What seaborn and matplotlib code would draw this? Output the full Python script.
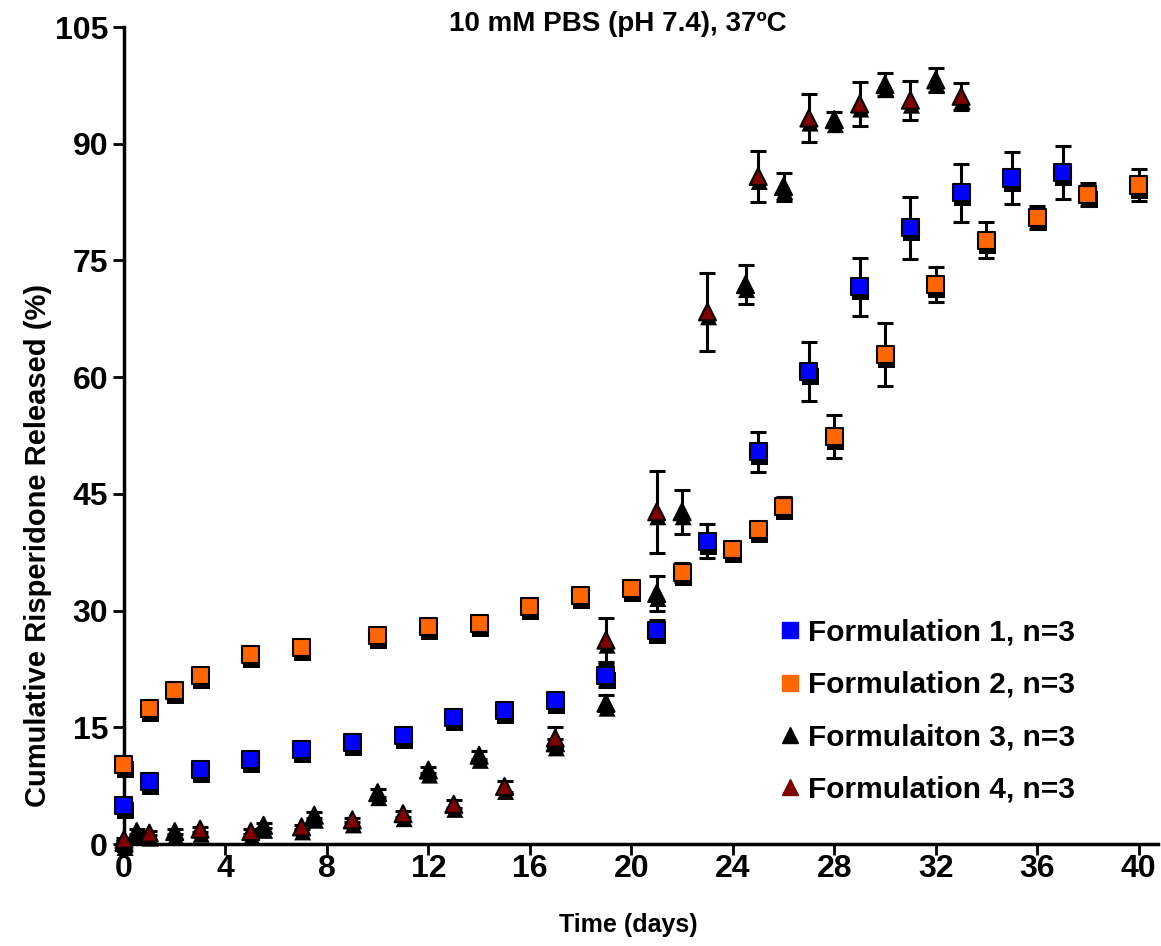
import matplotlib
matplotlib.use("Agg")
import matplotlib.pyplot as plt
import matplotlib.patheffects as pe
from matplotlib.lines import Line2D
import pandas as pd
import seaborn as sns

# -----------------------------
# Dados (dias, % liberado, desvio)
# -----------------------------
days_f1 = [0, 1, 3, 5, 7, 9, 11, 13, 15, 17, 19, 21, 23, 25, 27, 29, 31, 33, 35, 37]
rel_f1 = [5.0, 8.0, 9.6, 10.9, 12.2, 13.1, 14.0, 16.2, 17.2, 18.4, 21.7, 27.5,
          38.9, 50.4, 60.7, 71.6, 79.2, 83.7, 85.6, 86.3]
err_f1 = [0.3, 0.3, 0.3, 0.3, 0.3, 0.3, 0.4, 0.4, 0.4, 0.6, 1.5, 1.3,
          2.2, 2.6, 3.8, 3.7, 4.0, 3.7, 3.3, 3.4]

days_f2 = [0, 1, 2, 3, 5, 7, 10, 12, 14, 16, 18, 20, 22, 24, 25, 26, 28, 30, 32, 34, 36, 38, 40]
rel_f2 = [10.2, 17.4, 19.7, 21.7, 24.3, 25.2, 26.8, 28.0, 28.4, 30.5, 31.9, 32.9,
          34.9, 37.9, 40.4, 43.4, 52.4, 62.9, 71.9, 77.6, 80.5, 83.5, 84.7]
err_f2 = [0.3, 0.3, 0.3, 0.4, 0.3, 0.3, 0.3, 0.3, 0.4, 0.3, 0.3, 0.4,
          1.2, 0.4, 0.4, 1.2, 2.8, 4.0, 2.3, 2.3, 1.5, 1.5, 2.0]

days_f3 = [0, 0.5, 2, 5.5, 7.5, 10, 12, 14, 17, 19, 21, 22, 24.5, 26, 28, 30, 32]
rel_f3 = [0.2, 1.6, 1.6, 2.4, 3.7, 6.6, 9.5, 11.4, 13.0, 18.1, 32.2, 42.7,
          71.9, 84.5, 93.1, 97.6, 98.2]
err_f3 = [0.2, 0.3, 0.3, 0.3, 0.4, 0.5, 0.4, 0.5, 0.5, 1.0, 2.3, 2.8,
          2.5, 1.8, 1.0, 1.5, 1.5]

days_f4 = [0, 1, 3, 5, 7, 9, 11, 13, 15, 17, 19, 21, 23, 25, 27, 29, 31, 33]
rel_f4 = [0.6, 1.4, 1.9, 1.6, 2.2, 3.1, 3.9, 5.1, 7.4, 13.6, 26.2, 42.7,
          68.4, 85.8, 93.3, 95.1, 95.6, 96.1]
err_f4 = [0.2, 0.3, 0.3, 0.3, 0.3, 0.3, 0.4, 0.5, 0.7, 1.5, 2.8, 5.3,
          5.0, 3.3, 3.1, 2.8, 2.5, 1.7]

labels = ["Formulation 1, n=3", "Formulation 2, n=3", "Formulaiton 3, n=3", "Formulation 4, n=3"]
colors = ["#0000FF", "#FF6600", "#000000", "#800000"]
markers = ["s", "s", "^", "^"]

x_ticks = list(range(0, 41, 4))
y_ticks = list(range(0, 106, 15))

# -----------------------------
# Montar dataframe longo
# -----------------------------
frames = []
for lab, d, r, e in zip(labels, [days_f1, days_f2, days_f3, days_f4],
                        [rel_f1, rel_f2, rel_f3, rel_f4], [err_f1, err_f2, err_f3, err_f4]):
    frames.append(pd.DataFrame({"day": d, "released": r, "sd": e, "formulation": lab}))
df = pd.concat(frames, ignore_index=True)

# -----------------------------
# Plot
# -----------------------------
sns.set_style("ticks")
plt.rcParams["font.family"] = ["Liberation Sans", "DejaVu Sans"]
plt.rcParams["font.weight"] = "bold"
plt.rcParams["text.color"] = "black"
plt.rcParams["axes.labelcolor"] = "black"

fig = plt.figure(figsize=(11.61, 9.46), dpi=100)
ax = fig.add_axes([0.1068, 0.1078, 0.8906, 0.8636])

# barras de erro por baixo dos marcadores
for lab in labels:
    sub = df[df["formulation"] == lab]
    ax.errorbar(sub["day"], sub["released"], yerr=sub["sd"], fmt="none", ecolor="black",
                elinewidth=2.2, capsize=5.5, capthick=2.2, zorder=1, clip_on=False)

shadow = [pe.SimplePatchShadow(offset=(0.8, -3.6), shadow_rgbFace="black", alpha=1.0), pe.Normal()]
sns.scatterplot(data=df, x="day", y="released", hue="formulation", style="formulation",
                hue_order=labels, style_order=labels, palette=dict(zip(labels, colors)),
                markers=dict(zip(labels, markers)), s=150, edgecolor="black", linewidth=1.5,
                legend=False, ax=ax, zorder=3, clip_on=False, path_effects=shadow)

ax.set_xlim(0, 40.76)
ax.set_ylim(0, 105)
ax.set_xticks(x_ticks)
ax.set_yticks(y_ticks)
ax.tick_params(direction="out", length=8, width=2, labelsize=23, colors="black")
ax.tick_params(axis="x", pad=-1)
for side in ["left", "bottom"]:
    ax.spines[side].set_linewidth(2.5)
    ax.spines[side].set_color("black")
sns.despine(ax=ax)

ax.set_xlabel("Time (days)", fontsize=18, fontweight="bold")
ax.xaxis.set_label_coords(0.488, -0.085)
ax.set_ylabel("Cumulative Risperidone Released (%)", fontsize=21, fontweight="bold")
ax.yaxis.set_label_coords(-0.0696, 0.366)
fig.text(0.532, 0.975, "10 mM PBS (pH 7.4), 37ºC", ha="center", va="center",
         fontsize=20, fontweight="bold")

handles = [Line2D([], [], linestyle="none", marker=m, markerfacecolor=c, markeredgecolor=c,
                  markersize=11) for m, c in zip(markers, colors)]
ax.legend(handles, labels, loc="upper left", bbox_to_anchor=(0.66, 0.362),
          bbox_transform=fig.transFigure, frameon=False, fontsize=21.5,
          handlelength=0.6, handletextpad=0.3, labelspacing=0.82, borderpad=0)

fig.savefig("out.png", dpi=100)
